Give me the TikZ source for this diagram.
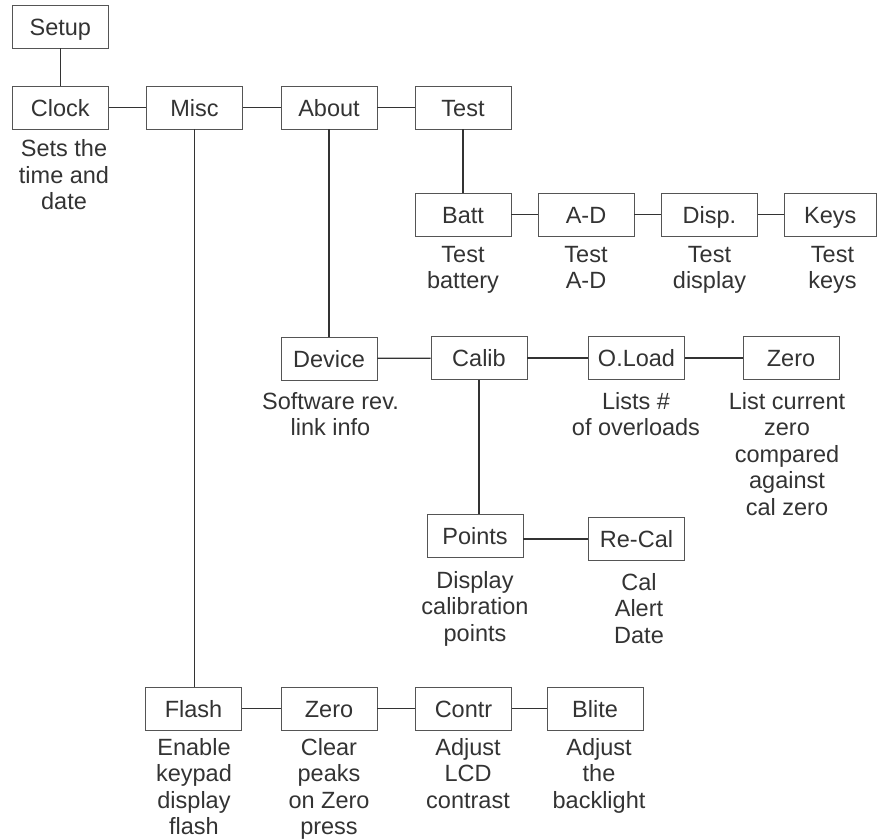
\documentclass[tikz,border=0pt]{standalone}
\usepackage{fontspec}
\setmainfont{Liberation Sans}
\definecolor{ink}{HTML}{333333}
\definecolor{edge}{HTML}{555555}
\begin{document}
\begin{tikzpicture}[x=1pt,y=-1pt,
  box/.style={draw=edge,line width=0.9pt,minimum width=96pt,minimum height=43pt,inner sep=0pt,text height=17pt,text depth=0pt,text=ink,font=\fontsize{23.5}{26.5}\selectfont},
  lbl/.style={anchor=north,inner sep=0pt,align=center,text=ink,font=\fontsize{23.5}{26.5}\selectfont},
  conn/.style={draw=ink,line width=1.2pt}]
\useasboundingbox (0,0) rectangle (877,839);
% boxes
\node[box] (setup) at (60.3,26.5) {Setup};
\node[box] (clock) at (60.3,107.5) {Clock};
\node[box] (misc) at (194.5,107.5) {Misc};
\node[box] (about) at (329,107.5) {About};
\node[box] (test) at (463,107.5) {Test};
\node[box] (batt) at (463,214.5) {Batt};
\node[box] (ad) at (586,214.5) {A-D};
\node[box] (disp) at (709.5,214.5) {Disp.};
\node[box,minimum width=92pt] (keys) at (830.3,214.5) {Keys};
\node[box] (device) at (329,358.5) {Device};
\node[box] (calib) at (479,358) {Calib};
\node[box] (oload) at (636.5,358) {O.Load};
\node[box] (zeroa) at (791,358) {Zero};
\node[box] (points) at (475,535.5) {Points};
\node[box] (recal) at (636.5,539) {Re-Cal};
\node[box] (flash) at (193.5,708.5) {Flash};
\node[box] (zerob) at (329,708.5) {Zero};
\node[box] (contr) at (463.5,708.5) {Contr};
\node[box] (blite) at (595,708.5) {Blite};
% connectors
\draw[conn] (setup) -- (clock);
\draw[conn] (clock) -- (misc);
\draw[conn] (misc) -- (about);
\draw[conn] (about) -- (test);
\draw[conn] (test) -- (batt);
\draw[conn] (batt) -- (ad);
\draw[conn] (ad) -- (disp);
\draw[conn] (disp) -- (keys);
\draw[conn] (about) -- (device);
\draw[conn] (misc.south) -- (misc.south |- flash.north);
\draw[conn] (device) -- (calib);
\draw[conn] (calib) -- (oload);
\draw[conn] (oload) -- (zeroa);
\draw[conn] (calib.south) -- (calib.south |- points.north);
\draw[conn] (recal.west) -- (recal.west -| points.east);
\draw[conn] (flash) -- (zerob);
\draw[conn] (zerob) -- (contr);
\draw[conn] (contr) -- (blite);
% labels
\node[lbl] (lclock) at (64,139.7) {Sets the\\time and\\date};
\node[lbl] (lbatt) at (463,246) {Test\\battery};
\node[lbl] (lad) at (586,246) {Test\\A-D};
\node[lbl] (ldisp) at (709.5,246) {Test\\display};
\node[lbl] (lkeys) at (832.5,246) {Test\\keys};
\node[lbl] (ldevice) at (330.5,392) {Software rev.\\link info};
\node[lbl] (loload) at (636,392) {Lists \#\\of overloads};
\node[lbl] (lzeroa) at (787,392) {List current\\zero\\compared\\against\\cal zero};
\node[lbl] (lpoints) at (475,571) {Display\\calibration\\points};
\node[lbl] (lrecal) at (639,573) {Cal\\Alert\\Date};
\node[lbl] (lflash) at (194,738) {Enable\\keypad\\display\\flash};
\node[lbl] (lzerob) at (329,738) {Clear\\peaks\\on Zero\\press};
\node[lbl] (lcontr) at (468,738) {Adjust\\LCD\\contrast};
\node[lbl] (lblite) at (599,738) {Adjust\\the\\backlight};
\end{tikzpicture}
\end{document}
